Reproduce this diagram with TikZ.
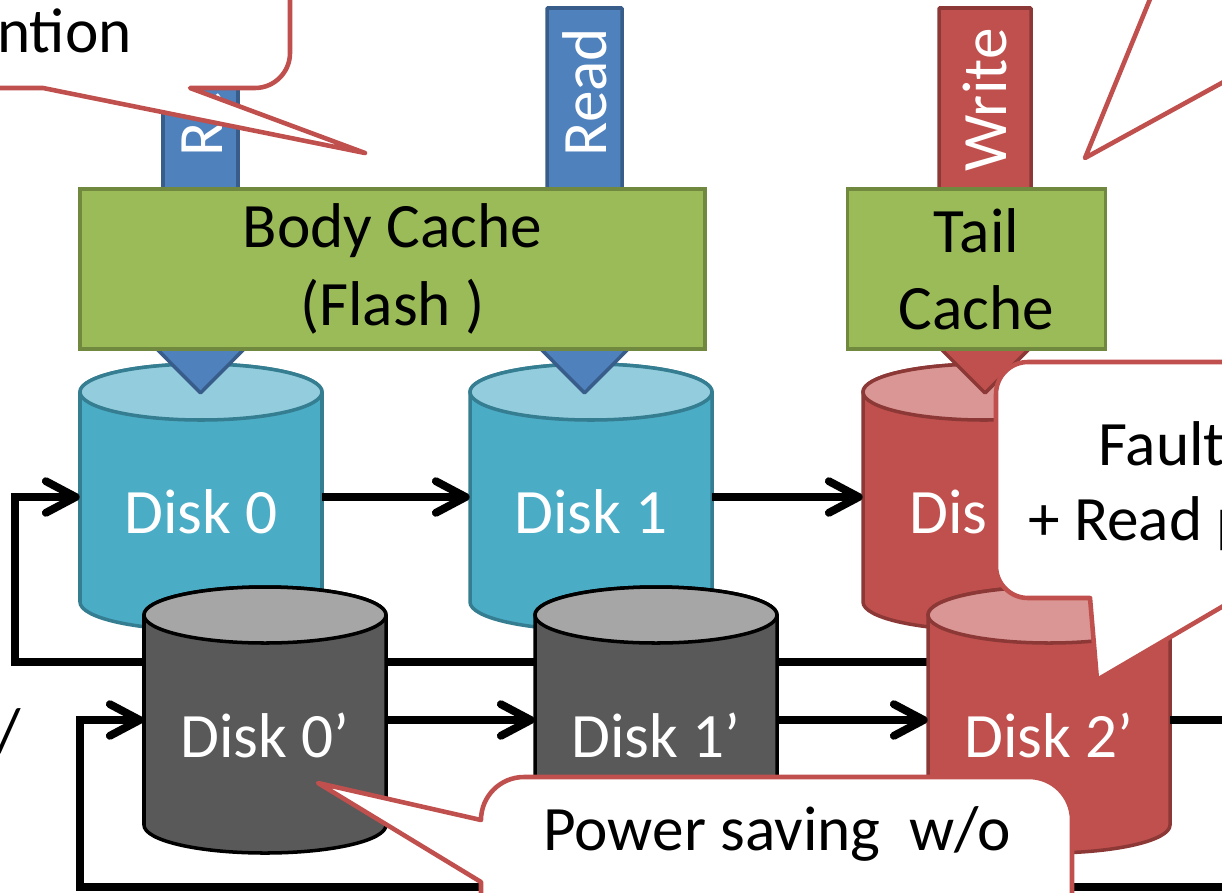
\documentclass[tikz,border=0pt]{standalone}
\usepackage{fontspec}
\setmainfont{Carlito}
\usetikzlibrary{arrows.meta,calc}

\definecolor{readblue}{HTML}{4F81BD}
\definecolor{readedge}{HTML}{385D8A}
\definecolor{cachegreen}{HTML}{9BBB59}
\definecolor{cacheedge}{HTML}{71893F}
\definecolor{writered}{HTML}{C0504D}
\definecolor{writeedge}{HTML}{8C3836}
\definecolor{tealbody}{HTML}{4BACC6}
\definecolor{tealcap}{HTML}{93CDDD}
\definecolor{tealedge}{HTML}{357D91}
\definecolor{redcap}{HTML}{D99694}
\definecolor{graybody}{HTML}{595959}
\definecolor{graycap}{HTML}{A6A6A6}
\definecolor{calloutred}{HTML}{C0504D}

% one disk: name, centre x, top y, side style, cap style, label
\newcommand\drive[6]{%
  \path[#4] (#2-121,#3) -- (#2-121,#3+210)
    arc[start angle=180, end angle=0, x radius=121, y radius=28]
    -- (#2+121,#3)
    arc[start angle=0, end angle=-180, x radius=121, y radius=28] -- cycle;
  \path[#5] (#2,#3) ellipse[x radius=121, y radius=28];
  \node[diskbody] (#1) at (#2,#3+105) {};
  \node[disklabel] (#1-txt) at (#2,#3+120) {#6};
}

\begin{document}
\begin{tikzpicture}[
      x=0.02cm, y=-0.02cm,
      every node/.style={font=\fontsize{36}{44}\selectfont, align=center, inner sep=0pt},
      cachebox/.style={rectangle, draw=cacheedge, fill=cachegreen, line width=2pt,
            minimum height=3.2cm},
      blockarrow/.style={line width=2pt, rounded corners=0.5pt},
      readarrow/.style={blockarrow, draw=readedge, fill=readblue},
      writearrow/.style={blockarrow, draw=writeedge, fill=writered},
      arrowtext/.style={text=white, rotate=90},
      diskbody/.style={minimum width=4.84cm, minimum height=4.2cm},
      disklabel/.style={text=white},
      tealside/.style={draw=tealedge, fill=tealbody, line width=2pt},
      tealtop/.style={draw=tealedge, fill=tealcap, line width=2pt},
      redside/.style={draw=writeedge, fill=writered, line width=2pt},
      redtop/.style={draw=writeedge, fill=redcap, line width=2pt},
      grayside/.style={draw=black, fill=graybody, line width=2pt},
      graytop/.style={draw=black, fill=graycap, line width=2pt},
      link/.style={-{Straight Barb[length=17pt, width=18pt, round]}, line width=4.5pt},
      callout/.style={draw=calloutred, fill=white, line width=2.6pt, line join=round}
]
\useasboundingbox (0,0) rectangle (1222,892);
\clip (0,0) rectangle (1222,892);

% first row of disks
\drive{d0}{201}{392}{tealside}{tealtop}{Disk 0}
\drive{d1}{591}{392}{tealside}{tealtop}{Disk 1}
\drive{d2}{984}{392}{redside}{redtop}{}
\node[disklabel, anchor=west] (d2-cut) at (909,512) {Dis};

% requests coming in from the top
\draw[readarrow] (163,8) -- (238,8) -- (238,330) -- (263,330) -- (200.5,393)
      -- (138,330) -- (163,330) -- cycle;
\draw[readarrow] (547,8) -- (622,8) -- (622,330) -- (647,330) -- (584.5,393)
      -- (522,330) -- (547,330) -- cycle;
\draw[writearrow] (939,8) -- (1031,8) -- (1031,320) -- (1058,320) -- (985,393)
      -- (912,320) -- (939,320) -- cycle;
\node[arrowtext] (rd0) at (200.5,92) {Read};
\node[arrowtext] (rd1) at (584.5,92) {Read};
\node[arrowtext] (wr) at (985,100) {Write};

\node[cachebox, minimum width=12.5cm] (body) at (392.5,269) {Body Cache\\(Flash )};
\node[cachebox, minimum width=5.16cm] (tail) at (976.5,269) {Tail\\Cache};

\coordinate (back1) at (15,662);
\draw[link] (d0) -- (d1);
\draw[link] (d1) -- (d2);
\draw[link] (d2.south) |- (back1) |- (d0.west);

% second row of disks
\drive{d0p}{265}{615}{grayside}{graytop}{Disk 0’}
\drive{d1p}{656}{615}{grayside}{graytop}{Disk 1’}
\drive{d2p}{1049}{615}{redside}{redtop}{Disk 2’}

\coordinate (turn2) at (1260,887);
\coordinate (back2) at (80,887);
\draw[link] (d0p) -- (d1p);
\draw[link] (d1p) -- (d2p);
\draw[link] (d2p.east) -| (turn2) -- (back2) |- (d0p.west);

\node[anchor=base] (cut) at (9,752) {/};

% callouts
\draw[callout] (-60,-60) -- (290,-60) -- (290,53)
      arc[start angle=0, end angle=90, radius=35] -- (190,88) -- (365,153)
      -- (43,88) -- (-60,88) -- cycle;
\node[anchor=base west] (note1) at (-3,52) {ntion};

\draw[callout] (1166,-40) -- (1085,158) -- (1300,40) -- (1300,-40) -- cycle;

\draw[callout] (1300,362) -- (1028,362)
      arc[start angle=-90, end angle=-180, radius=32] -- (996,566)
      arc[start angle=180, end angle=90, radius=32] -- (1090,598) -- (1097,680)
      -- (1237,598) -- (1300,598) -- cycle;
\node[anchor=base west] (note3a) at (1098,465) {Fault};
\node[anchor=base west] (note3b) at (1028,540) {+ Read p};

\draw[callout] (481,1000) -- (481,882) -- (318,783) -- (481,820)
      arc[start angle=180, end angle=270, radius=43] -- (1029,777)
      arc[start angle=270, end angle=360, radius=43] -- (1072,1000) -- cycle;
\node[anchor=base west] (note4) at (543,850) {Power saving\ \ w/o};
\end{tikzpicture}
\end{document}
